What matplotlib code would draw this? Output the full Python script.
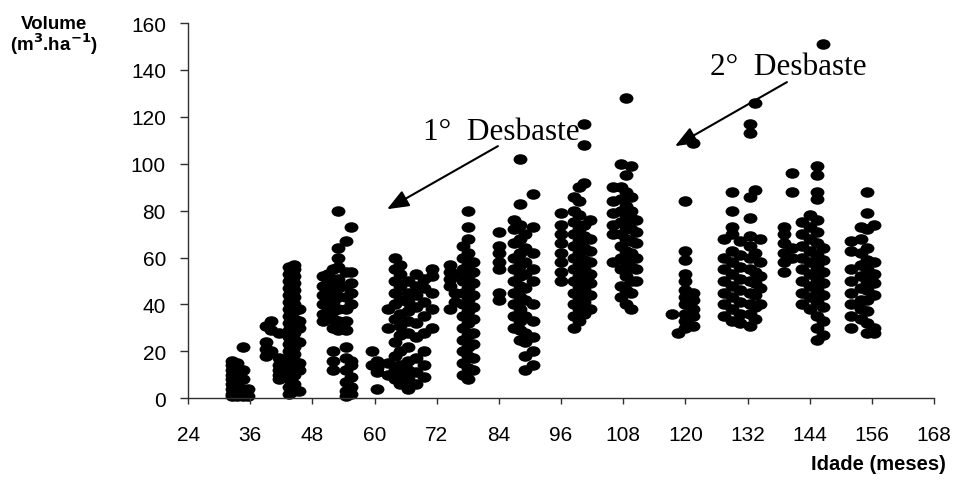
import matplotlib
matplotlib.use("Agg")
import matplotlib.pyplot as plt
from matplotlib.path import Path

# idade (meses) de cada coluna de pontos e os volumes lidos nela
idades = [32.5, 33.5, 34.5, 35.5,
          39, 40, 41.5, 43.5, 44.5, 45.5,
          50, 51, 52, 53, 54.5, 55.5,
          59.5, 60.5, 62.5, 64, 65, 66.5, 68, 69.5, 71,
          74.5, 75.5, 77, 78, 79,
          84, 87, 88, 89, 90.5,
          96, 98.5, 99.5, 100.5, 101.5,
          106, 107.5, 108.5, 109.5, 110.5,
          117.5, 118.5, 120, 121.5,
          127.5, 129, 130.5, 132.5, 133.5, 134.5,
          139, 140.5, 142.5, 144, 145.5, 146.5,
          152, 154, 155, 156.5]

volumes = [
    [1, 2, 4, 6, 8, 10, 12, 14, 16],
    [1, 3, 5, 7, 9, 11, 13, 15],
    [1, 2, 4, 8, 12, 22],
    [1, 4],
    [18, 21, 24, 31],
    [20, 29, 33],
    [8, 10, 12, 14, 17, 28],
    [2, 5, 8, 11, 14, 17, 20, 23, 26, 29, 32, 35, 38, 41, 44, 47, 50, 53, 56],
    [3, 6, 10, 13, 16, 19, 22, 25, 28, 31, 34, 37, 40, 43, 46, 49, 52, 55, 57],
    [3, 12, 15, 24, 30, 33, 38],
    [33, 36, 40, 44, 48, 52],
    [35, 38, 42, 46, 50, 53],
    [12, 16, 20, 30, 34, 37, 41, 45, 49, 55],
    [29, 33, 38, 43, 47, 51, 56, 60, 64, 80],
    [1, 3, 7, 12, 17, 22, 29, 33, 38, 43, 48, 54, 67],
    [2, 5, 9, 14, 16, 40, 45, 49, 54, 73],
    [14, 20],
    [4, 11, 13, 16],
    [10, 15, 30, 38],
    [8, 12, 18, 24, 34, 40, 45, 50, 55, 60],
    [6, 10, 14, 20, 27, 31, 36, 42, 48, 53, 57],
    [4, 8, 12, 16, 22, 28, 33, 37, 41, 45, 50],
    [6, 11, 17, 26, 32, 39, 44, 48, 53],
    [9, 14, 20, 28, 35, 41, 47, 51],
    [30, 38, 45, 52, 55],
    [38, 48, 51, 54, 57],
    [41, 45, 53],
    [10, 15, 20, 25, 30, 35, 40, 45, 50, 55, 60, 65],
    [8, 13, 18, 22, 27, 32, 37, 42, 47, 52, 57, 62, 68, 73, 80],
    [12, 17, 23, 28, 34, 39, 44, 49, 54, 58],
    [42, 45, 55, 58, 62, 65, 71],
    [30, 35, 40, 45, 50, 55, 60, 66, 72, 76],
    [25, 29, 33, 38, 43, 48, 52, 57, 62, 68, 74, 83, 102],
    [12, 18, 24, 28, 35, 42, 47, 53, 58, 64, 70],
    [14, 20, 26, 33, 40, 50, 55, 62, 73, 87],
    [50, 54, 58, 62, 66, 70, 74, 79],
    [30, 35, 40, 45, 50, 55, 60, 65, 70, 75, 80, 86],
    [33, 38, 43, 48, 52, 57, 62, 67, 72, 78, 84, 90],
    [36, 41, 46, 51, 55, 59, 64, 69, 74, 92, 108, 117],
    [38, 44, 49, 53, 58, 63, 68, 76],
    [58, 70, 74, 79, 84, 90],
    [43, 48, 55, 60, 65, 70, 75, 80, 85, 90, 100],
    [40, 46, 52, 58, 63, 68, 73, 78, 82, 88, 95, 128],
    [38, 45, 50, 56, 62, 67, 72, 77, 80, 86, 99],
    [50, 55, 60, 66, 71, 76],
    [36],
    [28],
    [30, 33, 36, 40, 43, 46, 50, 53, 59, 63, 84],
    [31, 35, 38, 42, 45, 109],
    [35, 40, 45, 50, 55, 60, 68],
    [33, 38, 43, 48, 53, 58, 63, 70, 73, 80, 88],
    [32, 36, 41, 46, 51, 56, 61, 67],
    [31, 36, 40, 45, 50, 55, 60, 65, 69, 77, 86, 113, 117],
    [34, 39, 44, 49, 54, 62, 89, 126],
    [40, 47, 52, 58, 68],
    [54, 58, 62, 66, 70, 73],
    [60, 64, 88, 96],
    [40, 45, 50, 55, 60, 65, 70, 75],
    [38, 43, 48, 53, 58, 63, 68, 73, 78],
    [25, 30, 35, 41, 46, 51, 56, 61, 66, 71, 76, 85, 88, 95, 99],
    [27, 33, 39, 44, 49, 54, 59, 64, 151],
    [30, 35, 40, 45, 50, 55, 63, 67],
    [34, 38, 42, 47, 52, 57, 62, 68, 73],
    [28, 32, 37, 42, 46, 50, 55, 59, 64, 72, 79, 88],
    [28, 30, 44, 49, 53, 58, 74],
]

x_ticks = list(range(24, 169, 12))
y_ticks = list(range(0, 161, 20))

# desbastes: texto e seta (ponta, origem)
desbastes = ["1°  Desbaste", "2°  Desbaste"]
texto_pos = [(69.4, 110.5), (124.8, 138.2)]
seta_ponta = [(62.4, 80.6), (118.0, 107.5)]
seta_origem = [(83.8, 107.5), (139.6, 134.8)]

xs = []
ys = []
for idade, vols in zip(idades, volumes):
    for v in vols:
        xs.append(idade)
        ys.append(v)

# marcador eliptico (mais largo que alto)
circ = Path.unit_circle()
elipse = Path(circ.vertices * [1.0, 0.76], circ.codes)

fig = plt.figure(figsize=(9.55, 4.81), dpi=100)
ax = fig.add_axes([0.197, 0.170, 0.781, 0.780])

ax.scatter(xs, ys, marker=elipse, s=100, color="black", linewidths=0,
           clip_on=False)

ax.set_xlim(24, 168)
ax.set_ylim(0, 160)
ax.set_xticks(x_ticks)
ax.set_yticks(y_ticks)

for s in ["top", "right"]:
    ax.spines[s].set_visible(False)
for s in ["left", "bottom"]:
    ax.spines[s].set_color("#303030")
    ax.spines[s].set_linewidth(1.0)

ax.tick_params(axis="y", direction="out", length=6, width=1, color="#303030",
               pad=10, labelsize=15)
ax.tick_params(axis="x", direction="out", length=4, width=1, color="#303030",
               pad=15, labelsize=15)
for lab in ax.get_yticklabels() + ax.get_xticklabels():
    lab.set_fontfamily("Liberation Sans")

for txt, pos, ponta, orig in zip(desbastes, texto_pos, seta_ponta, seta_origem):
    ax.text(pos[0], pos[1], txt, fontsize=22.5, family="Liberation Serif",
            ha="left", va="baseline")
    ax.annotate("", xy=ponta, xytext=orig,
                arrowprops=dict(arrowstyle="-|>,head_length=0.55,head_width=0.22",
                                color="black", lw=1.5,
                                mutation_scale=24, shrinkA=0, shrinkB=0))

fig.text(0.057, 0.940, "Volume", fontsize=13.5, fontweight="bold",
         family="Liberation Sans", ha="center", va="baseline")
fig.text(0.057, 0.893, r"(m$^\mathbf{3}$.ha$^\mathbf{-1}$)", fontsize=13.5,
         fontweight="bold", family="Liberation Sans", ha="center", va="baseline")
fig.text(0.990, 0.022, "Idade (meses)", fontsize=14.5, fontweight="bold",
         family="Liberation Sans", ha="right", va="baseline")

fig.savefig("out.png", dpi=100)
